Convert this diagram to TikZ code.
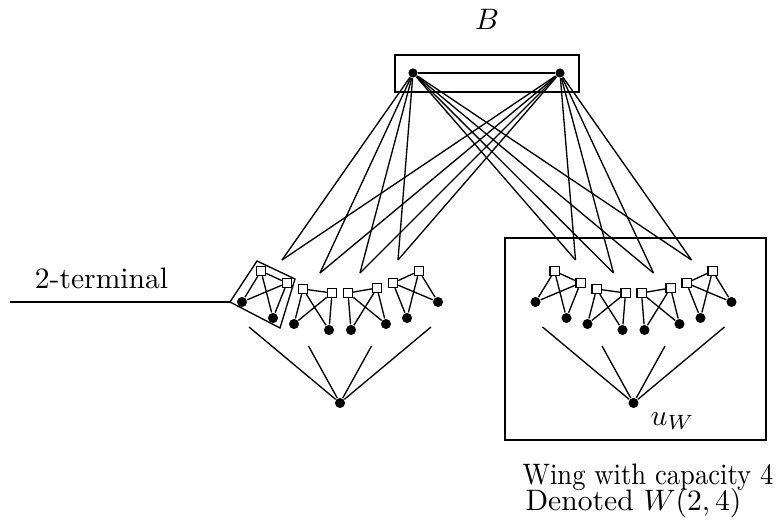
\documentclass[tikz,border=0pt]{standalone}
\usepackage{graphicx}
\begin{document}
\begin{tikzpicture}[x=0.338pt,y=-0.338pt,line width=0.45pt,
  sq/.style={draw,fill=white,inner sep=0pt,minimum size=3.1pt,line width=0.4pt},
  dotnode/.style={circle,fill=black,inner sep=0pt,minimum size=3.4pt},
  bdot/.style={circle,fill=black,inner sep=0pt,minimum size=3.1pt},
  lab/.style={inner sep=0pt}]
\useasboundingbox (0,0) rectangle (778,530);

% top box B
\draw (395,55) rectangle (579,92);
\node[bdot] (BL) at (413,73) {};
\node[bdot] (BR) at (560,73) {};
\draw (BL) -- (BR);
\node[lab] (Blabel) at (487,19) {$B$};

% right wing frame
\draw (505,238) rectangle (766,440);

\foreach \w/\c in {L/340,R/633.5} {
  \foreach \g/\ax/\ay/\bx/\by/\cx/\cy/\dx/\dy in
     {1/-79/271/-53/283/-98/302/-67/318,
      2/-37/289/-8/293/-46/324/-11/330,
      3/8/293/37/288/11/330/46/324,
      4/53/283/79/271/67/318/98/302} {
    \node[sq] (\w\g a) at ({\c+\ax},{\ay}) {};
    \node[sq] (\w\g b) at ({\c+\bx},{\by}) {};
    \node[dotnode] (\w\g c) at ({\c+\cx},{\cy}) {};
    \node[dotnode] (\w\g d) at ({\c+\dx},{\dy}) {};
    \draw (\w\g a) -- (\w\g b) (\w\g a) -- (\w\g c) (\w\g a) -- (\w\g d)
          (\w\g b) -- (\w\g c) (\w\g b) -- (\w\g d);
  }
  % tips of the fans from B
  \coordinate (\w t1) at ({\c-58},260);
  \coordinate (\w t2) at ({\c-20},273);
  \coordinate (\w t3) at ({\c+20},273);
  \coordinate (\w t4) at ({\c+58},260);
  \foreach \i in {1,2,3,4} {
    \draw (BL) -- (\w t\i);
    \draw (BR) -- (\w t\i);
  }
  % tree to the bottom vertex
  \node[dotnode] (\w u) at (\c,403) {};
  \coordinate (\w r1) at ({\c-91},327);
  \coordinate (\w r2) at ({\c-31.5},346);
  \coordinate (\w r3) at ({\c+31.5},346);
  \coordinate (\w r4) at ({\c+91},327);
  \foreach \i in {1,2,3,4} {
    \draw (\w r\i) -- (\w u);
  }
}

% 2-terminal box and line
\coordinate (k1) at (257,261);
\coordinate (k2) at (295,279);
\coordinate (k3) at (280,328);
\coordinate (k4) at (230,302);
\draw (k1) -- (k2) -- (k3) -- (k4) -- cycle;
\coordinate (tl) at (10,302);
\draw (tl) -- (k4);
\node[lab,anchor=base] (term) at (101.5,288) {2-terminal};

% labels
\node[lab,anchor=base west] (uw) at (650,425) {$u_W$};
\node[lab,anchor=base west] (cap1) at (522,484) {\scalebox{0.9}[1]{Wing with capacity 4}};
\node[lab,anchor=base] (cap2) at (633.5,510) {Denoted $W(2,4)$};
\end{tikzpicture}
\end{document}
